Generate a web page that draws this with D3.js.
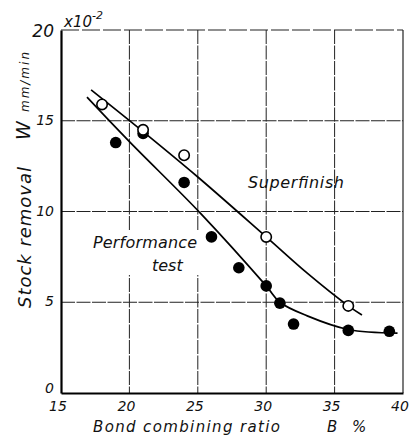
<!DOCTYPE html>
<html><head><meta charset="utf-8">
<script src="https://cdn.jsdelivr.net/npm/d3@7"></script>
<style>
html,body{margin:0;padding:0;background:#fff;}
text{font-family:"DejaVu Sans","Liberation Sans",sans-serif;font-style:italic;fill:#111;}
</style></head>
<body>
<svg id="chart" width="411" height="439"></svg>
<script>
// ---- data ----
const xTicks = [15, 20, 25, 30, 35, 40];
const yTicks = [0, 5, 10, 15, 20];
// Superfinish (open circles)
const superX = [18, 21, 24, 30, 36];
const superY = [15.9, 14.5, 13.1, 8.6, 4.8];
// Performance test (filled circles)
const perfX = [19, 21, 24, 26, 28, 30, 31, 32, 36, 39];
const perfY = [13.8, 14.3, 11.6, 8.6, 6.9, 5.9, 4.95, 3.8, 3.45, 3.4];
// fitted curves
const superCurveX = [17.2, 21, 25, 30, 33, 36, 37];
const superCurveY = [16.7, 14.4, 11.9, 8.6, 6.6, 4.8, 4.3];
const perfCurveX = [16.9, 20, 25.2, 30, 31, 33, 36, 39.6];
const perfCurveY = [16.3, 13.85, 9.9, 5.9, 5.0, 4.25, 3.5, 3.3];

const svg = d3.select("#chart");
const mLeft = 61, mRight = 403, mTop = 30, mBottom = 393;
const x = d3.scaleLinear().domain([15, 40]).range([mLeft, mRight]);
const y = d3.scaleLinear().domain([0, 20]).range([mBottom, mTop]);

// grid
const g = svg.append("g");
g.selectAll("line.vg").data(xTicks.slice(1, -1)).enter().append("line")
  .attr("x1", d => x(d)).attr("x2", d => x(d)).attr("y1", mTop).attr("y2", mBottom)
  .attr("stroke", "#222").attr("stroke-width", 1).attr("stroke-dasharray", "14,1.5");
g.selectAll("line.hg").data(yTicks.slice(1, -1)).enter().append("line")
  .attr("x1", mLeft).attr("x2", mRight).attr("y1", d => y(d)).attr("y2", d => y(d))
  .attr("stroke", "#222").attr("stroke-width", 1).attr("stroke-dasharray", "14,1.5");
// top & right frame (thin)
svg.append("line").attr("x1", mLeft).attr("x2", mRight).attr("y1", y(20)).attr("y2", y(20))
  .attr("stroke", "#222").attr("stroke-width", 1.2).attr("stroke-dasharray", "18,3");
svg.append("line").attr("x1", x(40)).attr("x2", x(40)).attr("y1", mTop).attr("y2", mBottom)
  .attr("stroke", "#222").attr("stroke-width", 1.2);

// knock-out behind the "Performance test" label
svg.append("rect").attr("x", 91).attr("y", 231).attr("width", 108).attr("height", 44).attr("fill", "#fff");

// curves
const line = d3.line().x(d => x(d[0])).y(d => y(d[1])).curve(d3.curveCatmullRom.alpha(0.5));
svg.append("path").datum(d3.zip(superCurveX, superCurveY)).attr("d", line)
  .attr("fill", "none").attr("stroke", "#000").attr("stroke-width", 1.7);
svg.append("path").datum(d3.zip(perfCurveX, perfCurveY)).attr("d", line)
  .attr("fill", "none").attr("stroke", "#000").attr("stroke-width", 1.7);

// points
svg.selectAll("circle.perf").data(d3.zip(perfX, perfY)).enter().append("circle")
  .attr("cx", d => x(d[0])).attr("cy", d => y(d[1])).attr("r", 5.8).attr("fill", "#000");
svg.selectAll("circle.sup").data(d3.zip(superX, superY)).enter().append("circle")
  .attr("cx", d => x(d[0])).attr("cy", d => y(d[1])).attr("r", 5.2)
  .attr("fill", "#fff").attr("stroke", "#000").attr("stroke-width", 1.6);

// axes (thick left & bottom)
svg.append("g").attr("transform", `translate(0,${mBottom})`)
  .call(d3.axisBottom(x).tickValues(xTicks).tickSize(0).tickFormat(""))
  .call(s => s.select(".domain").attr("stroke", "#000").attr("stroke-width", 2.2));
svg.append("g").attr("transform", `translate(${mLeft},0)`)
  .call(d3.axisLeft(y).tickValues(yTicks).tickSize(0).tickFormat(""))
  .call(s => s.select(".domain").attr("stroke", "#000").attr("stroke-width", 2.2));

// tick labels
svg.selectAll("text.xt").data(xTicks).enter().append("text")
  .attr("x", d => x(d) - 3).attr("y", 411).attr("text-anchor", "middle")
  .attr("font-size", 14).text(d => d);
svg.selectAll("text.yt").data(yTicks).enter().append("text")
  .attr("x", 54).attr("y", d => y(d) + (d === 20 ? 7 : d === 0 ? 0 : 4))
  .attr("text-anchor", "end")
  .attr("font-size", d => d === 20 ? 17 : 14).text(d => d);

// exponent
const ex = svg.append("text").attr("x", 64).attr("y", 27).attr("font-size", 15);
ex.append("tspan").text("x10");
ex.append("tspan").attr("dy", -8).attr("font-size", 11).text("-2");

// axis titles
svg.append("text").attr("x", 93).attr("y", 432).attr("font-size", 15)
  .attr("textLength", 187).text("Bond combining ratio");
svg.append("text").attr("x", 327).attr("y", 432).attr("font-size", 15).text("B");
svg.append("text").attr("x", 352).attr("y", 432).attr("font-size", 15).text("%");

svg.append("text").attr("transform", "translate(31,308) rotate(-90)")
  .attr("font-size", 18).attr("textLength", 141).text("Stock removal");
svg.append("text").attr("transform", "translate(30,140) rotate(-90)")
  .attr("font-size", 19).text("W");
svg.append("text").attr("transform", "translate(29,112) rotate(-90)")
  .attr("font-size", 12).attr("textLength", 60).text("mm/min");

// series labels
svg.append("text").attr("x", 248).attr("y", 188).attr("font-size", 16)
  .attr("textLength", 96).text("Superfinish");
svg.append("text").attr("x", 93).attr("y", 248).attr("font-size", 16)
  .attr("textLength", 104).text("Performance");
svg.append("text").attr("x", 152).attr("y", 271).attr("font-size", 16).text("test");
</script>
</body></html>
